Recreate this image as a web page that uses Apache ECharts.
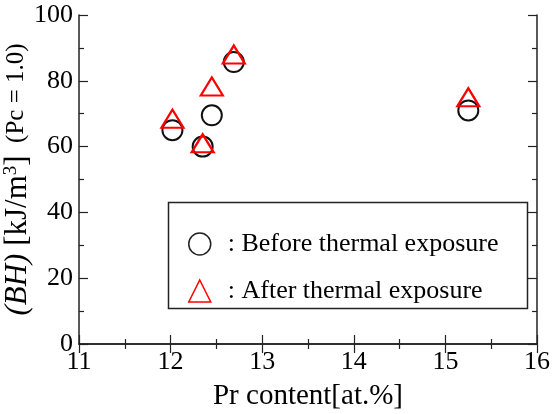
<!DOCTYPE html>
<html><head><meta charset="utf-8">
<script src="https://cdn.jsdelivr.net/npm/echarts@6/dist/echarts.min.js"></script>
<style>html,body{margin:0;padding:0;background:#fff}#c{width:553px;height:414px}</style>
</head><body><div id="c"></div>
<script>
const prContent = [12.02, 12.35, 12.45, 12.69, 15.25];
const beforeBH = [65, 60, 69.5, 85.7, 71];
const afterBH = [68.5, 61, 78.3, 88, 75];
const xTicks = [11, 12, 13, 14, 15, 16];
const yTicks = [0, 20, 40, 60, 80, 100];
const seriesNames = [': Before thermal exposure', ': After thermal exposure'];

const font = '"Liberation Serif", "Times New Roman", serif';
const chart = echarts.init(document.getElementById('c'));
const axisLine = {show: true, lineStyle: {color: '#222', width: 1.5}};
const tick = {show: true, inside: true, length: 9, lineStyle: {color: '#222', width: 1.2}};
const minorTick = {show: true, splitNumber: 2, length: 5, lineStyle: {color: '#222', width: 1.2}};
chart.setOption({
  animation: false,
  backgroundColor: '#fff',
  grid: {left: 79, right: 16, top: 15, bottom: 70, containLabel: false, outerBoundsMode: 'none'},
  graphic: [{type: 'rect', left: 166, top: 200, shape: {width: 359, height: 106},
    style: {fill: 'none', stroke: '#222', lineWidth: 1.5}, z: 5}],
  legend: {
    orient: 'vertical', left: 188, top: 231, padding: 0, itemGap: 21,
    itemWidth: 22, itemHeight: 22,
    textStyle: {fontFamily: font, fontSize: 26, color: '#000', padding: [0, 0, 0, 12]},
    data: [
      {name: seriesNames[0], icon: 'circle', itemStyle: {color: 'rgba(0,0,0,0)', borderColor: '#222', borderWidth: 1.5}},
      {name: seriesNames[1], icon: 'triangle', itemStyle: {color: 'rgba(0,0,0,0)', borderColor: '#f00', borderWidth: 1.5}}
    ]
  },
  xAxis: [{
    type: 'value', min: xTicks[0], max: xTicks[xTicks.length - 1], interval: 1,
    name: 'Pr content[at.%]', nameLocation: 'middle', nameGap: 38, nameMoveOverlap: false,
    nameTextStyle: {fontFamily: font, fontSize: 29, color: '#000'},
    axisLine, axisTick: tick, minorTick,
    axisLabel: {fontFamily: font, fontSize: 26, color: '#000', margin: 5},
    splitLine: {show: false}
  }, {
    type: 'value', position: 'top', min: xTicks[0], max: xTicks[xTicks.length - 1], interval: 1,
    axisLine, axisTick: tick, minorTick, axisLabel: {show: false}, splitLine: {show: false}
  }],
  yAxis: [{
    type: 'value', min: yTicks[0], max: yTicks[yTicks.length - 1], interval: 20,
    name: '{i|(BH)}{a| [kJ/m}{sup|3}{a|]}{c|  (Pc = 1.0)}', nameLocation: 'middle', nameGap: 45, nameRotate: 90,
    nameMoveOverlap: false,
    nameTextStyle: {fontFamily: font, fontSize: 25, color: '#000', lineHeight: 32,
      rich: {i: {fontFamily: font, fontSize: 31, fontStyle: 'italic', color: '#000', lineHeight: 32},
             a: {fontFamily: font, fontSize: 31, color: '#000', lineHeight: 32},
             c: {fontFamily: font, fontSize: 25, color: '#000', lineHeight: 32, verticalAlign: 'middle', padding: [0, 0, 4, 0]},
             sup: {fontFamily: font, fontSize: 19, color: '#000', verticalAlign: 'top', lineHeight: 19}}},
    axisLine, axisTick: tick, minorTick,
    axisLabel: {fontFamily: font, fontSize: 26, color: '#000', margin: 6},
    splitLine: {show: false}
  }, {
    type: 'value', position: 'right', min: yTicks[0], max: yTicks[yTicks.length - 1], interval: 20,
    axisLine, axisTick: tick, minorTick, axisLabel: {show: false}, splitLine: {show: false}
  }],
  series: [{
    name: seriesNames[0], type: 'scatter', symbol: 'circle', symbolSize: 20,
    itemStyle: {color: 'rgba(0,0,0,0)', borderColor: '#111', borderWidth: 2, opacity: 1},
    data: prContent.map((x, i) => [x, beforeBH[i]]), z: 3
  }, {
    name: seriesNames[1], type: 'scatter', symbol: 'triangle', symbolSize: [22, 18],
    itemStyle: {color: 'rgba(0,0,0,0)', borderColor: '#f00', borderWidth: 2.2, opacity: 1},
    data: prContent.map((x, i) => [x, afterBH[i]]), z: 4
  }]
});
</script></body></html>
